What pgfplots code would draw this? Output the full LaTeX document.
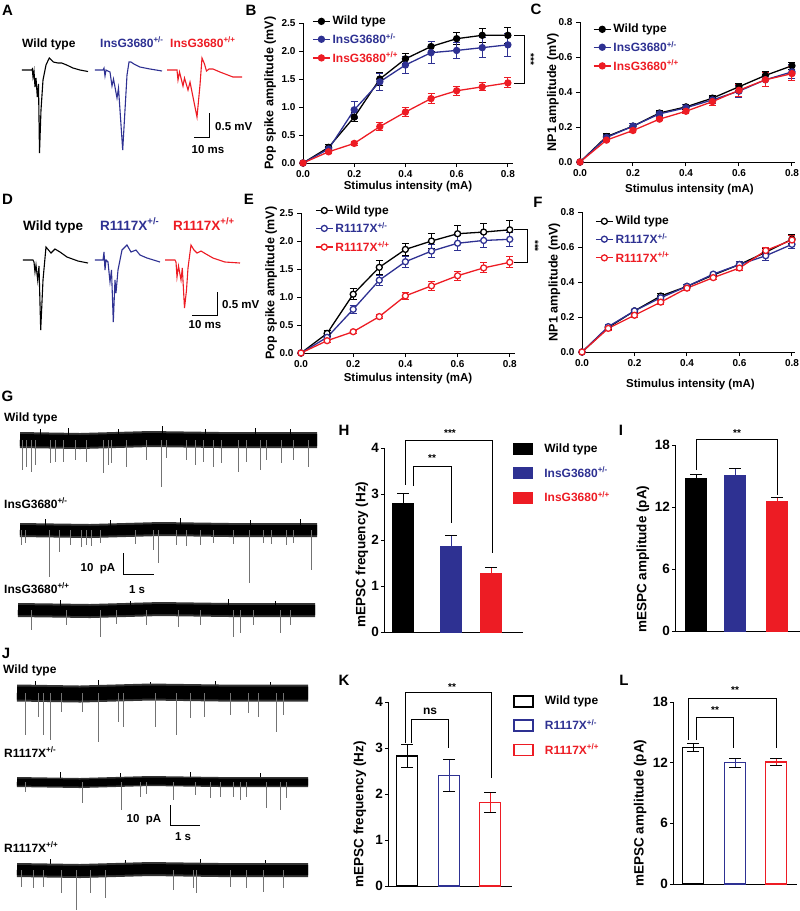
\documentclass[border=0pt]{standalone}
\usepackage{fontspec}
\setmainfont{Liberation Sans}
\usepackage{pgfplots}
\pgfplotsset{compat=1.18}
\definecolor{pblue}{RGB}{46,49,146}
\definecolor{pred}{RGB}{237,28,36}
\newcommand{\fsz}[1]{\fontsize{#1}{#1}\selectfont}
\pgfplotsset{
  base/.style={scale only axis, clip=false, axis lines=left,
    axis line style={-, line width=1pt}, tick style={black, line width=1pt},
    tick align=outside, major tick length=4pt,
    /pgf/number format/assume math mode=true,
    tick label style={font=\fsz{10}}, label style={font=\fsz{11.5}},
    ylabel style={anchor=center}, xlabel style={anchor=center}},
  linech/.style={base, xmin=0, xmax=0.82, ymin=0, xtick={0,0.2,0.4,0.6,0.8},
    xticklabel style={/pgf/number format/fixed, /pgf/number format/fixed zerofill, /pgf/number format/precision=1},
    yticklabel style={/pgf/number format/fixed, /pgf/number format/fixed zerofill, /pgf/number format/precision=1},
    xlabel={Stimulus intensity (mA)},
    ylabel style={font=\fsz{12.5}},
    legend style={draw=none, fill=none, anchor=north west, font=\fsz{12}, row sep=3pt, inner sep=0pt},
    legend cell align=left,
    error bars/y dir=both, error bars/y explicit,
    error bars/error bar style={line width=1pt},
    error bars/error mark options={rotate=90, line width=1pt, mark size=3.5pt}},
  wt/.style={black, line width=1.3pt, mark=*, mark size=3pt, mark options={solid, fill=black}},
  het/.style={pblue, line width=1.3pt, mark=*, mark size=3pt, mark options={solid, fill=pblue}},
  hom/.style={pred, line width=1.3pt, mark=*, mark size=3pt, mark options={solid, fill=pred}},
  owt/.style={black, line width=1.3pt, mark=*, mark size=3pt, mark options={solid, fill=white}},
  ohet/.style={pblue, line width=1.3pt, mark=*, mark size=3pt, mark options={solid, fill=white}},
  ohom/.style={pred, line width=1.3pt, mark=*, mark size=3pt, mark options={solid, fill=white}},
  barch/.style={base, xmin=0, ymin=0, xtick=\empty, major tick length=3pt,
    tick label style={font=\fsz{13.5}}, yticklabel style={xshift=1.5pt}, ylabel style={font=\fsz{13.5}},
    legend style={draw=none, fill=none, anchor=north west, font=\fsz{12}, row sep=9pt, inner sep=0pt},
    legend cell align=left,
    legend image code/.code={\draw[#1] (0pt,-5.5pt) rectangle (19pt,5.5pt); \path[draw=none, fill=none] (0pt,0pt) rectangle (29pt,0.1pt);},
    error bars/y explicit,
    error bars/error bar style={line width=1pt},
    error bars/error mark options={rotate=90, line width=1pt, mark size=6pt}},
  bar/.style={ybar, bar width=21pt, bar shift=0pt},
  band/.style={black!80, line width=#1},
}
\begin{document}
\bfseries
\begin{tikzpicture}
\useasboundingbox (0pt,0pt) rectangle (800pt,-911pt);

% overlay in pixel units: traces, scale bars, panel letters
\begin{axis}[at={(0pt,0pt)}, anchor=north west, scale only axis, width=800pt, height=911pt,
  xmin=0, xmax=800, ymin=0, ymax=911, y dir=reverse, hide axis, clip=false]
% A
\addplot[black, line width=1.1pt] coordinates {(22,70)(31.7,70)(32.3,69)(33,77)(34,71)(35,87)(36,78)(37.3,97)(38.5,84)(39.5,153)(41,110)(43,80)(46,65)(48.3,60)(49.3,58)(53.3,62)(58,63)(61.7,63)(66.7,65)(73,68)(80,70)(88,71.5)};
\addplot[pblue, line width=1.1pt] coordinates {(95,70)(103,70)(104,68)(105,76)(106,70)(110,72)(112,86)(113.5,79)(117,98)(118.5,88)(122.7,150)(125,110)(127,75)(129,62)(131,62)(134,64)(140,67)(150,69)(162,71)};
\addplot[pred, line width=1.1pt] coordinates {(167,70)(177,70)(178,80)(179.5,72)(183,86)(184.5,78)(188,90)(190,82)(197,117)(200,85)(202,58)(204.5,64)(206.5,71)(209,69)(213,69)(220,72)(233,77)(242,77)};
\addplot[black, line width=1pt] coordinates {(209,113)(209,137)(194,137)};
% D
\addplot[black, line width=1.1pt] coordinates {(23,260)(33,260)(34,262)(35,272)(36,265)(37.7,280)(39,266)(40.7,330)(43,280)(46,247)(48.5,250)(51,253)(55,249)(60,252)(67,257)(78,261)(88,263)};
\addplot[pblue, line width=1.1pt] coordinates {(95,260)(103,260)(104,252)(105,270)(106,260)(108,262)(110,282)(111.5,270)(113.3,322)(115,280)(116,293)(118,270)(122,250)(127,245)(131,252)(136,250)(140,255)(147,258)(160,262)};
\addplot[pred, line width=1.1pt] coordinates {(165,260)(175,260)(176,262)(177,277)(178.5,266)(181,280)(182.3,268)(184.5,308)(186.5,290)(188,268)(191,245)(194,250)(197,253)(201,251)(206,254)(213,258)(225,262)(240,263)};
\addplot[black, line width=1pt] coordinates {(217,292)(217,315)(192,315)};
% G bands
\addplot[band=16pt] coordinates {(20,440)(80,441)(150,439)(220,440)(317,440)};
\addplot[black, line width=12pt] coordinates {(20,440)(80,441)(150,439)(220,440)(317,440)};
\addplot[band=14pt] coordinates {(20,530)(90,531)(160,529)(230,530)(317,530)};
\addplot[black, line width=10pt] coordinates {(20,530)(90,531)(160,529)(230,530)(317,530)};
\addplot[band=14pt] coordinates {(18,610)(90,611)(160,609)(230,610)(315,610)};
\addplot[black, line width=10pt] coordinates {(18,610)(90,611)(160,609)(230,610)(315,610)};
\addplot[black!55, line width=0.6pt, unbounded coords=jump] coordinates {
(22.7,440)(22.7,470)(22.7,nan)(26.7,440)(26.7,467)(26.7,nan)(31.7,440)(31.7,472)(31.7,nan)(35,440)(35,465)(35,nan)
(50,440)(50,463)(50,nan)(55,440)(55,462)(55,nan)(63.3,440)(63.3,462)(63.3,nan)(75,440)(75,460)(75,nan)
(86.7,440)(86.7,462)(86.7,nan)(103.3,440)(103.3,473)(103.3,nan)(108.3,440)(108.3,465)(108.3,nan)(111.7,440)(111.7,463)(111.7,nan)
(126.7,440)(126.7,467)(126.7,nan)(146.7,440)(146.7,460)(146.7,nan)(161.7,440)(161.7,487)(161.7,nan)(166.7,440)(166.7,458)(166.7,nan)
(186.7,440)(186.7,460)(186.7,nan)(195,440)(195,465)(195,nan)(203.3,440)(203.3,462)(203.3,nan)(213.3,440)(213.3,467)(213.3,nan)
(221.7,440)(221.7,463)(221.7,nan)(238.3,440)(238.3,472)(238.3,nan)(246.7,440)(246.7,462)(246.7,nan)(260,440)(260,470)(260,nan)
(266.7,440)(266.7,460)(266.7,nan)(281.7,440)(281.7,463)(281.7,nan)(293.3,440)(293.3,460)(293.3,nan)(308,440)(308,467)(308,nan)
(21.7,530)(21.7,545)(21.7,nan)(25,530)(25,543)(25,nan)(49.3,530)(49.3,577)(49.3,nan)(59.3,530)(59.3,552)(59.3,nan)
(70,530)(70,545)(70,nan)(81.7,530)(81.7,547)(81.7,nan)(86.7,530)(86.7,545)(86.7,nan)(91.7,530)(91.7,546)(91.7,nan)
(100,530)(100,543)(100,nan)(135,530)(135,544)(135,nan)(153.3,530)(153.3,550)(153.3,nan)(158.3,530)(158.3,563)(158.3,nan)
(176.7,530)(176.7,545)(176.7,nan)(186.7,530)(186.7,546)(186.7,nan)(200,530)(200,545)(200,nan)(213.3,530)(213.3,543)(213.3,nan)
(233.3,530)(233.3,544)(233.3,nan)(249.3,530)(249.3,583)(249.3,nan)(263.3,530)(263.3,543)(263.3,nan)(271.7,530)(271.7,544)(271.7,nan)
(286.7,530)(286.7,545)(286.7,nan)(293.3,530)(293.3,543)(293.3,nan)(311,530)(311,570)(311,nan)
(31.7,610)(31.7,630)(31.7,nan)(66.7,610)(66.7,625)(66.7,nan)(100,610)(100,637)(100,nan)(116.7,610)(116.7,624)(116.7,nan)
(146.7,610)(146.7,625)(146.7,nan)(178.3,610)(178.3,627)(178.3,nan)(200,610)(200,625)(200,nan)(233.3,610)(233.3,637)(233.3,nan)
(240,610)(240,633)(240,nan)(253.3,610)(253.3,625)(253.3,nan)(280,610)(280,633)(280,nan)(290,610)(290,625)(290,nan)
};
% small upward noise
\addplot[black, line width=0.6pt, unbounded coords=jump] coordinates {
(40,440)(40,429)(40,nan)(68,440)(68,428)(68,nan)(118,440)(118,429)(118,nan)(162,440)(162,426)(162,nan)(205,440)(205,429)(205,nan)(255,440)(255,428)(255,nan)(290,440)(290,429)(290,nan)
(45,530)(45,519)(45,nan)(110,530)(110,520)(110,nan)(180,530)(180,518)(180,nan)(250,530)(250,520)(250,nan)(300,530)(300,519)(300,nan)
(60,610)(60,600)(60,nan)(130,610)(130,601)(130,nan)(228,610)(228,599)(228,nan)(275,610)(275,601)(275,nan)
(35,693)(35,681)(35,nan)(98,693)(98,680)(98,nan)(150,693)(150,682)(150,nan)(215,693)(215,681)(215,nan)(270,693)(270,682)(270,nan)
(60,782)(60,772)(60,nan)(120,782)(120,773)(120,nan)(190,782)(190,772)(190,nan)(260,782)(260,773)(260,nan)
(50,870)(50,859)(50,nan)(125,870)(125,860)(125,nan)(200,870)(200,859)(200,nan)(265,870)(265,860)(265,nan)
};
\addplot[black, line width=1pt] coordinates {(123,553)(123,574)(154,574)};
% J bands
\addplot[band=17pt] coordinates {(17,693)(80,694)(150,692)(220,693)(308,693)};
\addplot[black, line width=13pt] coordinates {(17,693)(80,694)(150,692)(220,693)(308,693)};
\addplot[band=10pt] coordinates {(17,782)(80,783)(150,781)(220,782)(308,782)};
\addplot[black, line width=7pt] coordinates {(17,782)(80,783)(150,781)(220,782)(308,782)};
\addplot[band=14pt] coordinates {(17,870)(80,871)(150,869)(220,870)(308,870)};
\addplot[black, line width=10pt] coordinates {(17,870)(80,871)(150,869)(220,870)(308,870)};
\addplot[black!55, line width=0.6pt, unbounded coords=jump] coordinates {
(25.7,693)(25.7,735)(25.7,nan)(38.3,693)(38.3,717)(38.3,nan)(43.3,693)(43.3,735)(43.3,nan)(50,693)(50,740)(50,nan)
(61.7,693)(61.7,712)(61.7,nan)(82.7,693)(82.7,712)(82.7,nan)(98.3,693)(98.3,742)(98.3,nan)(118.3,693)(118.3,722)(118.3,nan)
(123.3,693)(123.3,727)(123.3,nan)(155,693)(155,727)(155,nan)(176.7,693)(176.7,735)(176.7,nan)(190,693)(190,718)(190,nan)
(204,693)(204,717)(204,nan)(230,693)(230,715)(230,nan)(248.3,693)(248.3,713)(248.3,nan)(258.3,693)(258.3,717)(258.3,nan)
(276.7,693)(276.7,732)(276.7,nan)(283.3,693)(283.3,715)(283.3,nan)
(25,782)(25,792)(25,nan)(82.7,782)(82.7,803)(82.7,nan)(121.7,782)(121.7,810)(121.7,nan)(140,782)(140,797)(140,nan)
(146.7,782)(146.7,794)(146.7,nan)(173.3,782)(173.3,800)(173.3,nan)(195,782)(195,795)(195,nan)(210,782)(210,798)(210,nan)
(220,782)(220,797)(220,nan)(233.3,782)(233.3,797)(233.3,nan)(240,782)(240,800)(240,nan)(246.7,782)(246.7,797)(246.7,nan)
(266.7,782)(266.7,808)(266.7,nan)(280,782)(280,810)(280,nan)(286.7,782)(286.7,798)(286.7,nan)
(21.7,870)(21.7,887)(21.7,nan)(33.3,870)(33.3,888)(33.3,nan)(43.3,870)(43.3,887)(43.3,nan)(61.7,870)(61.7,893)(61.7,nan)
(76.7,870)(76.7,910)(76.7,nan)(90,870)(90,893)(90,nan)(105,870)(105,898)(105,nan)(173.3,870)(173.3,890)(173.3,nan)
(193.3,870)(193.3,888)(193.3,nan)(196.7,870)(196.7,893)(196.7,nan)(230,870)(230,887)(230,nan)(246.7,870)(246.7,888)(246.7,nan)
(263.3,870)(263.3,892)(263.3,nan)(283.3,870)(283.3,888)(283.3,nan)
};
\addplot[black, line width=1pt] coordinates {(170,805)(170,825)(200,825)};
% letters
\node[font=\fsz{15}] at (axis cs:7.5,10) {A};
\node[font=\fsz{15}] at (axis cs:251,10) {B};
\node[font=\fsz{15}] at (axis cs:536,9) {C};
\node[font=\fsz{15}] at (axis cs:7.5,199) {D};
\node[font=\fsz{15}] at (axis cs:249,199) {E};
\node[font=\fsz{15}] at (axis cs:538,202) {F};
\node[font=\fsz{15}] at (axis cs:7.5,396) {G};
\node[font=\fsz{15}] at (axis cs:344,430) {H};
\node[font=\fsz{15}] at (axis cs:621,430) {I};
\node[font=\fsz{15}] at (axis cs:6,653) {J};
\node[font=\fsz{15}] at (axis cs:344,680) {K};
\node[font=\fsz{15}] at (axis cs:624,680) {L};
% trace labels
\node[font=\fsz{12}, anchor=base west, inner sep=0pt] at (axis cs:22,47) {Wild type};
\node[font=\fsz{12}, anchor=base west, inner sep=0pt, text=pblue] at (axis cs:100,47) {InsG3680\textsuperscript{+/-}};
\node[font=\fsz{12}, anchor=base west, inner sep=0pt, text=pred] at (axis cs:170,47) {InsG3680\textsuperscript{+/+}};
\node[font=\fsz{11.5}, anchor=west, inner sep=0pt] at (axis cs:215,127) {0.5 mV};
\node[font=\fsz{11.5}, inner sep=0pt] at (axis cs:208,150) {10 ms};
\node[font=\fsz{13.5}, anchor=base west, inner sep=0pt] at (axis cs:23,230) {Wild type};
\node[font=\fsz{13.5}, anchor=base west, inner sep=0pt, text=pblue] at (axis cs:100,230) {R1117X\textsuperscript{+/-}};
\node[font=\fsz{13.5}, anchor=base west, inner sep=0pt, text=pred] at (axis cs:173,230) {R1117X\textsuperscript{+/+}};
\node[font=\fsz{11.5}, anchor=west, inner sep=0pt] at (axis cs:222,305) {0.5 mV};
\node[font=\fsz{11.5}, inner sep=0pt] at (axis cs:205,325) {10 ms};
\node[font=\fsz{12}, anchor=base west, inner sep=0pt] at (axis cs:4,421) {Wild type};
\node[font=\fsz{12}, anchor=base west, inner sep=0pt] at (axis cs:4,508) {InsG3680\textsuperscript{+/-}};
\node[font=\fsz{12}, anchor=base west, inner sep=0pt] at (axis cs:4,593) {InsG3680\textsuperscript{+/+}};
\node[font=\fsz{11.5}, inner sep=0pt] at (axis cs:98,569) {10\ \ pA};
\node[font=\fsz{11.5}, inner sep=0pt] at (axis cs:137,590) {1 s};
\node[font=\fsz{12}, anchor=base west, inner sep=0pt] at (axis cs:3,673) {Wild type};
\node[font=\fsz{12}, anchor=base west, inner sep=0pt] at (axis cs:4,757) {R1117X\textsuperscript{+/-}};
\node[font=\fsz{12}, anchor=base west, inner sep=0pt] at (axis cs:4,852) {R1117X\textsuperscript{+/+}};
\node[font=\fsz{11.5}, inner sep=0pt] at (axis cs:144,820) {10\ \ pA};
\node[font=\fsz{11.5}, inner sep=0pt] at (axis cs:183,837) {1 s};
\end{axis}

% B
\begin{axis}[linech, at={(303pt,-163pt)}, anchor=south west, width=210pt, height=140pt,
  ymax=2.5, ytick={0,0.5,1,1.5,2,2.5}, ylabel={Pop spike amplitude (mV)},
  ylabel style={at={(axis description cs:-0.157,0.5)}}, xlabel style={at={(axis description cs:0.5,-0.17)}},
  legend style={at={(0.043,1.064)}}]
\addplot[wt] coordinates {(0,0) (0.1,0.28)+-(0,0.05) (0.2,0.82)+-(0,0.08) (0.3,1.50)+-(0,0.11) (0.4,1.86)+-(0,0.09) (0.5,2.08)+-(0,0.09) (0.6,2.22)+-(0,0.11) (0.7,2.28)+-(0,0.13) (0.8,2.28)+-(0,0.14)};
\addlegendentry{Wild type}
\addplot[het] coordinates {(0,0) (0.1,0.25)+-(0,0.04) (0.2,0.95)+-(0,0.15) (0.3,1.45)+-(0,0.15) (0.4,1.75)+-(0,0.16) (0.5,1.97)+-(0,0.2) (0.6,2.01)+-(0,0.15) (0.7,2.06)+-(0,0.18) (0.8,2.11)+-(0,0.2)};
\addlegendentry{\textcolor{pblue}{InsG3680\textsuperscript{+/-}}}
\addplot[hom] coordinates {(0,0) (0.1,0.2)+-(0,0.03) (0.2,0.35)+-(0,0.03) (0.3,0.65)+-(0,0.07) (0.4,0.91)+-(0,0.08) (0.5,1.15)+-(0,0.09) (0.6,1.29)+-(0,0.08) (0.7,1.36)+-(0,0.07) (0.8,1.43)+-(0,0.09)};
\addlegendentry{\textcolor{pred}{InsG3680\textsuperscript{+/+}}}
\draw[line width=0.8pt] (axis cs:0.824,2.28) -| (axis cs:0.863,1.43) -- (axis cs:0.824,1.43);
\node[rotate=-90, font=\fsz{10}] at (axis cs:0.89,1.85) {***};
\end{axis}

% C
\begin{axis}[linech, at={(580pt,-162pt)}, anchor=south west, width=214.6pt, height=140pt, xmax=0.81,
  ymax=0.8, ytick={0,0.2,0.4,0.6,0.8}, ylabel={NP1 amplitude (mV)},
  ylabel style={at={(axis description cs:-0.126,0.5)}}, xlabel style={at={(axis description cs:0.51,-0.2)}},
  legend style={at={(0.06,1.0)}}]
\addplot[wt] coordinates {(0,0) (0.1,0.145)+-(0,0.02) (0.2,0.205)+-(0,0.015) (0.3,0.28)+-(0,0.015) (0.4,0.315)+-(0,0.015) (0.5,0.365)+-(0,0.015) (0.6,0.43)+-(0,0.02) (0.7,0.495)+-(0,0.02) (0.8,0.55)+-(0,0.02)};
\addlegendentry{Wild type}
\addplot[het] coordinates {(0,0) (0.1,0.14)+-(0,0.015) (0.2,0.205)+-(0,0.015) (0.3,0.275)+-(0,0.015) (0.4,0.31)+-(0,0.02) (0.5,0.355)+-(0,0.02) (0.6,0.405)+-(0,0.035) (0.7,0.47)+-(0,0.04) (0.8,0.515)+-(0,0.04)};
\addlegendentry{\textcolor{pblue}{InsG3680\textsuperscript{+/-}}}
\addplot[hom] coordinates {(0,0) (0.1,0.125)+-(0,0.01) (0.2,0.18)+-(0,0.01) (0.3,0.245)+-(0,0.01) (0.4,0.29)+-(0,0.015) (0.5,0.345)+-(0,0.02) (0.6,0.41)+-(0,0.035) (0.7,0.47)+-(0,0.04) (0.8,0.505)+-(0,0.04)};
\addlegendentry{\textcolor{pred}{InsG3680\textsuperscript{+/+}}}
\end{axis}

% E
\begin{axis}[linech, at={(301pt,-353pt)}, anchor=south west, width=214pt, height=140pt,
  ymax=2.5, ytick={0,0.5,1,1.5,2,2.5}, ylabel={Pop spike amplitude (mV)},
  ylabel style={at={(axis description cs:-0.14,0.5)}}, xlabel style={at={(axis description cs:0.5,-0.18)}},
  legend style={at={(0.065,1.07)}}]
\addplot[owt] coordinates {(0,0) (0.1,0.35)+-(0,0.05) (0.2,1.05)+-(0,0.1) (0.3,1.53)+-(0,0.12) (0.4,1.85)+-(0,0.11) (0.5,2.0)+-(0,0.14) (0.6,2.13)+-(0,0.15) (0.7,2.16)+-(0,0.15) (0.8,2.2)+-(0,0.17)};
\addlegendentry{Wild type}
\addplot[ohet] coordinates {(0,0) (0.1,0.28)+-(0,0.04) (0.2,0.78)+-(0,0.07) (0.3,1.3)+-(0,0.09) (0.4,1.63)+-(0,0.1) (0.5,1.82)+-(0,0.12) (0.6,1.96)+-(0,0.13) (0.7,2.01)+-(0,0.13) (0.8,2.03)+-(0,0.12)};
\addlegendentry{\textcolor{pblue}{R1117X\textsuperscript{+/-}}}
\addplot[ohom] coordinates {(0,0) (0.1,0.22)+-(0,0.03) (0.2,0.38)+-(0,0.03) (0.3,0.65)+-(0,0.04) (0.4,1.02)+-(0,0.06) (0.5,1.2)+-(0,0.08) (0.6,1.38)+-(0,0.08) (0.7,1.52)+-(0,0.09) (0.8,1.62)+-(0,0.1)};
\addlegendentry{\textcolor{pred}{R1117X\textsuperscript{+/+}}}
\draw[line width=0.8pt] (axis cs:0.816,2.2) -| (axis cs:0.866,1.62) -- (axis cs:0.816,1.62);
\node[rotate=-90, font=\fsz{10}] at (axis cs:0.897,1.91) {***};
\end{axis}

% F
\begin{axis}[linech, at={(582pt,-352pt)}, anchor=south west, width=212.6pt, height=140pt, xmax=0.81,
  ymax=0.8, ytick={0,0.2,0.4,0.6,0.8}, ylabel={NP1 amplitude (mV)},
  ylabel style={at={(axis description cs:-0.13,0.5)}}, xlabel style={at={(axis description cs:0.51,-0.23)}},
  legend style={at={(0.061,0.986)}}]
\addplot[owt] coordinates {(0,0) (0.1,0.14)+-(0,0.01) (0.2,0.235)+-(0,0.01) (0.3,0.32)+-(0,0.012) (0.4,0.375)+-(0,0.012) (0.5,0.44)+-(0,0.012) (0.6,0.5)+-(0,0.015) (0.7,0.57)+-(0,0.02) (0.8,0.645)+-(0,0.025)};
\addlegendentry{Wild type}
\addplot[ohet] coordinates {(0,0) (0.1,0.145)+-(0,0.01) (0.2,0.235)+-(0,0.01) (0.3,0.31)+-(0,0.01) (0.4,0.375)+-(0,0.012) (0.5,0.445)+-(0,0.012) (0.6,0.5)+-(0,0.015) (0.7,0.55)+-(0,0.025) (0.8,0.615)+-(0,0.025)};
\addlegendentry{\textcolor{pblue}{R1117X\textsuperscript{+/-}}}
\addplot[ohom] coordinates {(0,0) (0.1,0.135)+-(0,0.01) (0.2,0.21)+-(0,0.01) (0.3,0.285)+-(0,0.012) (0.4,0.365)+-(0,0.012) (0.5,0.425)+-(0,0.012) (0.6,0.48)+-(0,0.015) (0.7,0.58)+-(0,0.02) (0.8,0.64)+-(0,0.025)};
\addlegendentry{\textcolor{pred}{R1117X\textsuperscript{+/+}}}
\end{axis}

% H
\begin{axis}[barch, at={(384pt,-632pt)}, anchor=south west, width=139pt, height=184pt,
  xmax=139, ymax=4, ytick={0,1,2,3,4}, ylabel={mEPSC frequency (Hz)},
  ylabel style={at={(axis description cs:-0.16,0.42)}},
  error bars/y dir=plus, legend style={at={(0.928,1.035)}}]
\addplot[bar, fill=black, draw=black] coordinates {(19,2.8)+-(0,0.22)};
\addlegendentry{Wild type}
\addplot[bar, fill=pblue, draw=pblue] coordinates {(67,1.87)+-(0,0.22)};
\addlegendentry{\textcolor{pblue}{InsG3680\textsuperscript{+/-}}}
\addplot[bar, fill=pred, draw=pred] coordinates {(107,1.27)+-(0,0.14)};
\addlegendentry{\textcolor{pred}{InsG3680\textsuperscript{+/+}}}
\draw[line width=1pt] (axis cs:21,3.2) |- (axis cs:108,4.17) -- (axis cs:108,1.72);
\draw[line width=1pt] (axis cs:29,3.17) |- (axis cs:67,3.59) -- (axis cs:67,2.37);
\node[font=\fsz{10}] at (axis cs:48,3.78) {**};
\node[font=\fsz{10}] at (axis cs:66,4.33) {***};
\end{axis}

% I
\begin{axis}[barch, at={(675pt,-631pt)}, anchor=south west, width=125pt, height=186pt,
  xmax=125, ymax=18, ytick={0,6,12,18}, ylabel={mESPC amplitude (pA)},
  ylabel style={at={(axis description cs:-0.256,0.387)}}, error bars/y dir=plus]
\addplot[bar, fill=black, draw=black] coordinates {(21,14.8)+-(0,0.35)};
\addplot[bar, fill=pblue, draw=pblue] coordinates {(60,15.1)+-(0,0.6)};
\addplot[bar, fill=pred, draw=pred] coordinates {(102,12.6)+-(0,0.3)};
\draw[line width=1pt] (axis cs:21,15.6) |- (axis cs:102,18.5) -- (axis cs:102,13.2);
\node[font=\fsz{10}] at (axis cs:62,19.2) {**};
\end{axis}

% K
\begin{axis}[barch, at={(388pt,-886pt)}, anchor=south west, width=124pt, height=184pt,
  xmax=124, ymax=4, ytick={0,1,2,3,4}, ylabel={mEPSC frequency (Hz)},
  ylabel style={at={(axis description cs:-0.226,0.39)}},
  error bars/y dir=both, legend style={at={(1.008,1.043)}}]
\addplot[bar, fill=white, draw=black, line width=1.5pt] coordinates {(19,2.83)+-(0,0.25)};
\addlegendentry{Wild type}
\addplot[bar, fill=white, draw=pblue, line width=1.5pt] coordinates {(61,2.4)+-(0,0.35)};
\addlegendentry{\textcolor{pblue}{R1117X\textsuperscript{+/-}}}
\addplot[bar, fill=white, draw=pred, line width=1.5pt] coordinates {(102,1.82)+-(0,0.22)};
\addlegendentry{\textcolor{pred}{R1117X\textsuperscript{+/+}}}
\draw[line width=1pt] (axis cs:17,3.11) |- (axis cs:103,4.2) -- (axis cs:103,2.35);
\draw[line width=1pt] (axis cs:23,3.11) |- (axis cs:60,3.61) -- (axis cs:60,3.0);
\node[font=\fsz{12}] at (axis cs:42,3.8) {ns};
\node[font=\fsz{10}] at (axis cs:64,4.33) {**};
\end{axis}

% L
\begin{axis}[barch, at={(673pt,-884pt)}, anchor=south west, width=124pt, height=182pt,
  xmax=124, ymax=18, ytick={0,6,12,18}, ylabel={mEPSC amplitude (pA)},
  ylabel style={at={(axis description cs:-0.266,0.39)}}, error bars/y dir=both]
\addplot[bar, fill=white, draw=black, line width=1.5pt] coordinates {(20,13.5)+-(0,0.4)};
\addplot[bar, fill=white, draw=pblue, line width=1.5pt] coordinates {(62,12.0)+-(0,0.45)};
\addplot[bar, fill=white, draw=pred, line width=1.5pt] coordinates {(103,12.05)+-(0,0.35)};
\draw[line width=1pt] (axis cs:15,14.24) |- (axis cs:103,18.3) -- (axis cs:103,13.45);
\draw[line width=1pt] (axis cs:23,14.24) |- (axis cs:60,16.5) -- (axis cs:60,13.45);
\node[font=\fsz{10}] at (axis cs:62,19.2) {**};
\node[font=\fsz{10}] at (axis cs:42,17.2) {**};
\end{axis}
\end{tikzpicture}
\end{document}
